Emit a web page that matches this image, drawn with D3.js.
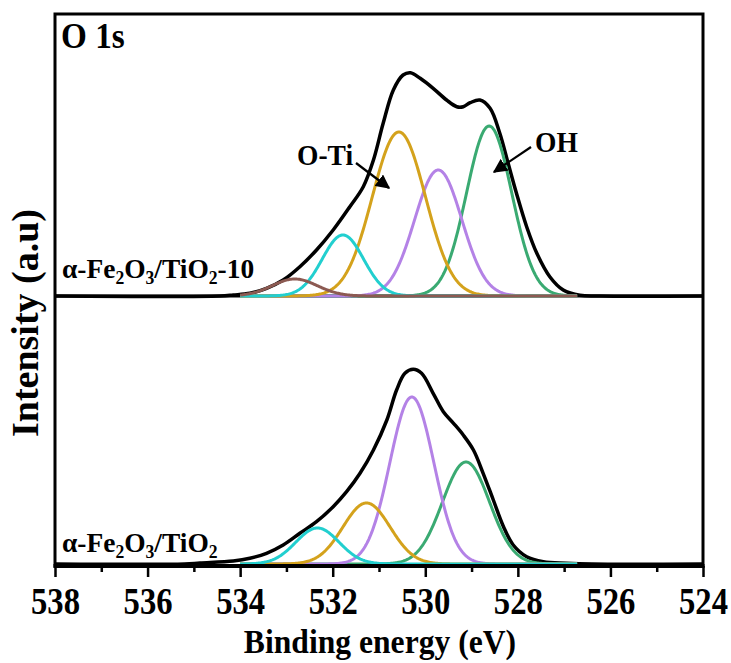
<!DOCTYPE html>
<html><head><meta charset="utf-8">
<script src="https://cdn.jsdelivr.net/npm/d3@7"></script>
<style>body{margin:0;background:#fff}svg{display:block}text{font-family:"Liberation Serif","Times New Roman",serif;font-weight:bold}</style>
</head><body>
<svg id="c" width="731" height="663"></svg>
<script>
// ---------- data ----------
const xTicks = [538, 536, 534, 532, 530, 528, 526, 524];
const xMinorTicks = [537, 535, 533, 531, 529, 527, 525];
const compColors = {brown:"#8c5a52", cyan:"#22cfcf", gold:"#d4a21c", purple:"#b482e6", green:"#3aaa72"};

// top panel (α-Fe2O3/TiO2-10): component centre (eV), height (a.u.), FWHM (eV)
const topNames   = ["brown", "cyan", "gold", "purple", "green"];
const topCenters = [532.82, 531.78, 530.57, 529.72, 528.62];
const topHeights = [17, 61, 164, 126, 170];
const topFwhm    = [1.15, 1.05, 1.35, 1.2, 1.15];
// top envelope (measured curve)
const topEnvE = [538, 534.44, 534.15, 533.79, 533.43, 533.07, 532.71, 532.35, 531.99, 531.63, 531.34, 531.12, 530.91, 530.69, 530.48, 530.32, 530.11, 529.83, 529.54, 529.32, 529.18, 529.03, 528.82, 528.60, 528.39, 528.21, 528.03, 527.81, 527.59, 527.31, 527.02, 526.66, 526.23, 524];
const topEnvI = [0, 0, 1, 2.7, 7.7, 16, 29.3, 46, 66, 89.3, 109.3, 136, 172.7, 206, 221, 223.3, 217.7, 207.7, 196, 189.3, 189.3, 193.3, 196, 187.7, 162.7, 132.7, 102.7, 69.3, 42.7, 19.3, 6, 0.7, 0, 0];

// bottom panel (α-Fe2O3/TiO2)
const botNames   = ["cyan", "gold", "purple", "green"];
const botCenters = [532.33, 531.27, 530.29, 529.12];
const botHeights = [36, 61, 167, 102];
const botFwhm    = [1.1, 1.2, 1.12, 1.2];
const botEnvE = [538, 535.2, 534.87, 534.15, 533.79, 533.43, 533.07, 532.71, 532.35, 531.99, 531.70, 531.41, 531.12, 530.83, 530.62, 530.44, 530.26, 530.08, 529.83, 529.61, 529.39, 529.18, 528.96, 528.75, 528.53, 528.31, 528.10, 527.81, 527.45, 526.95, 526.4, 524];
const botEnvI = [0, 0, 1, 3, 5.7, 10.7, 19, 30.7, 42.3, 57.3, 72.3, 90.7, 114, 144, 174, 190.7, 194.7, 190.7, 170.7, 152.3, 140.7, 129, 114, 90.7, 64, 37.3, 19, 7.3, 2.3, 0.8, 0, 0];

// ---------- drawing ----------
const svg = d3.select("#c");
const L = 55, R = 703, T = 14, MID = 296, B = 566;
const x = d3.scaleLinear().domain([538, 524]).range([L, R]);
const yTop = d3.scaleLinear().domain([0, 282]).range([MID, T]);
const yBot = d3.scaleLinear().domain([0, 268]).range([B - 2, MID]);

function gauss(c, h, w) {
  const grid = d3.range(534.0, 526.7, -0.02);
  return grid.map(e => [e, h * Math.exp(-4 * Math.LN2 * (e - c) * (e - c) / (w * w))]);
}
function drawPanel(y, names, centers, heights, fwhm, envE, envI) {
  const line = d3.line().x(d => x(d[0])).y(d => y(d[1]));
  const env = envE.map((e, i) => [e, envI[i]]);
  svg.append("path").attr("d", line.curve(d3.curveCatmullRom.alpha(0.5))(env))
    .attr("fill", "none").attr("stroke", "#000").attr("stroke-width", 3.5).attr("stroke-linejoin", "round");
  const gl = d3.line().x(d => x(d[0])).y(d => y(d[1]));
  for (let i = names.length - 1; i >= 0; i--) {
    svg.append("path").attr("d", gl(gauss(centers[i], heights[i], fwhm[i])))
      .attr("fill", "none").attr("stroke", compColors[names[i]]).attr("stroke-width", 3).attr("stroke-linejoin", "round");
  }
}

// frame
svg.append("rect").attr("x", L).attr("y", T).attr("width", R - L).attr("height", B - T)
  .attr("fill", "none").attr("stroke", "#000").attr("stroke-width", 3);
svg.append("line").attr("x1", L).attr("x2", R).attr("y1", MID).attr("y2", MID).attr("stroke", "#000").attr("stroke-width", 3);

drawPanel(yTop, topNames, topCenters, topHeights, topFwhm, topEnvE, topEnvI);
drawPanel(yBot, botNames, botCenters, botHeights, botFwhm, botEnvE, botEnvI);

// bottom axis
svg.append("line").attr("x1", L - 1.5).attr("x2", R + 1.5).attr("y1", B).attr("y2", B).attr("stroke", "#000").attr("stroke-width", 4);
const ax = svg.append("g").attr("transform", `translate(0,${B})`)
  .call(d3.axisBottom(x).tickValues(xTicks).tickSize(11).tickFormat(d3.format("d")));
ax.select(".domain").remove();
ax.selectAll(".tick line").attr("stroke", "#000").attr("stroke-width", 2.5);
ax.selectAll(".tick text").attr("fill", "#000").attr("font-size", 38).attr("y", 0).attr("dy", 48)
  .attr("transform", "scale(0.86,1)")
  .attr("font-family", "Liberation Serif").attr("font-weight", "bold");
const axm = svg.append("g").attr("transform", `translate(0,${B})`)
  .call(d3.axisBottom(x).tickValues(xMinorTicks).tickSize(6).tickFormat(""));
axm.select(".domain").remove();
axm.selectAll(".tick line").attr("stroke", "#000").attr("stroke-width", 2.5);

function label(xp, yp, size, txt, sx, anchor, rot) {
  return svg.append("text")
    .attr("transform", `translate(${xp},${yp})` + (rot ? ` rotate(${rot})` : "") + ` scale(${sx},1)`)
    .attr("text-anchor", anchor || "start").attr("font-size", size).text(txt);
}
// titles
label((L + R) / 2 + 1, 653, 34, "Binding energy (eV)", 0.93, "middle");
label(38, 323, 38, "Intensity (a.u)", 1, "middle", -90);
label(61, 48, 35, "O 1s", 0.95);

function sampleLabel(xp, yp, parts) {
  const t = svg.append("text").attr("transform", `translate(${xp},${yp}) scale(0.98,1)`).attr("font-size", 28);
  parts.forEach(p => {
    const s = t.append("tspan").text(p[0]);
    if (p[1]) s.attr("font-size", 18).attr("dy", 6);
    else if (p[2]) s.attr("dy", -6);
  });
}
sampleLabel(62, 278, [["α-Fe"], ["2", 1], ["O", 0, 1], ["3", 1], ["/TiO", 0, 1], ["2", 1], ["-10", 0, 1]]);
sampleLabel(62, 552, [["α-Fe"], ["2", 1], ["O", 0, 1], ["3", 1], ["/TiO", 0, 1], ["2", 1]]);

// annotations
svg.append("defs").append("marker").attr("id", "ah").attr("viewBox", "0 0 10 10").attr("refX", 9).attr("refY", 5)
  .attr("markerWidth", 6.5).attr("markerHeight", 6.5).attr("orient", "auto")
  .append("path").attr("d", "M0,0 L10,5 L0,10 Z").attr("fill", "#000");
label(297, 165, 29, "O-Ti", 0.95);
svg.append("line").attr("x1", 356).attr("y1", 163).attr("x2", 389).attr("y2", 188)
  .attr("stroke", "#000").attr("stroke-width", 2.2).attr("marker-end", "url(#ah)");
label(535, 152, 29, "OH", 0.95);
svg.append("line").attr("x1", 531).attr("y1", 147).attr("x2", 494).attr("y2", 172)
  .attr("stroke", "#000").attr("stroke-width", 2.2).attr("marker-end", "url(#ah)");
</script>
</body></html>
